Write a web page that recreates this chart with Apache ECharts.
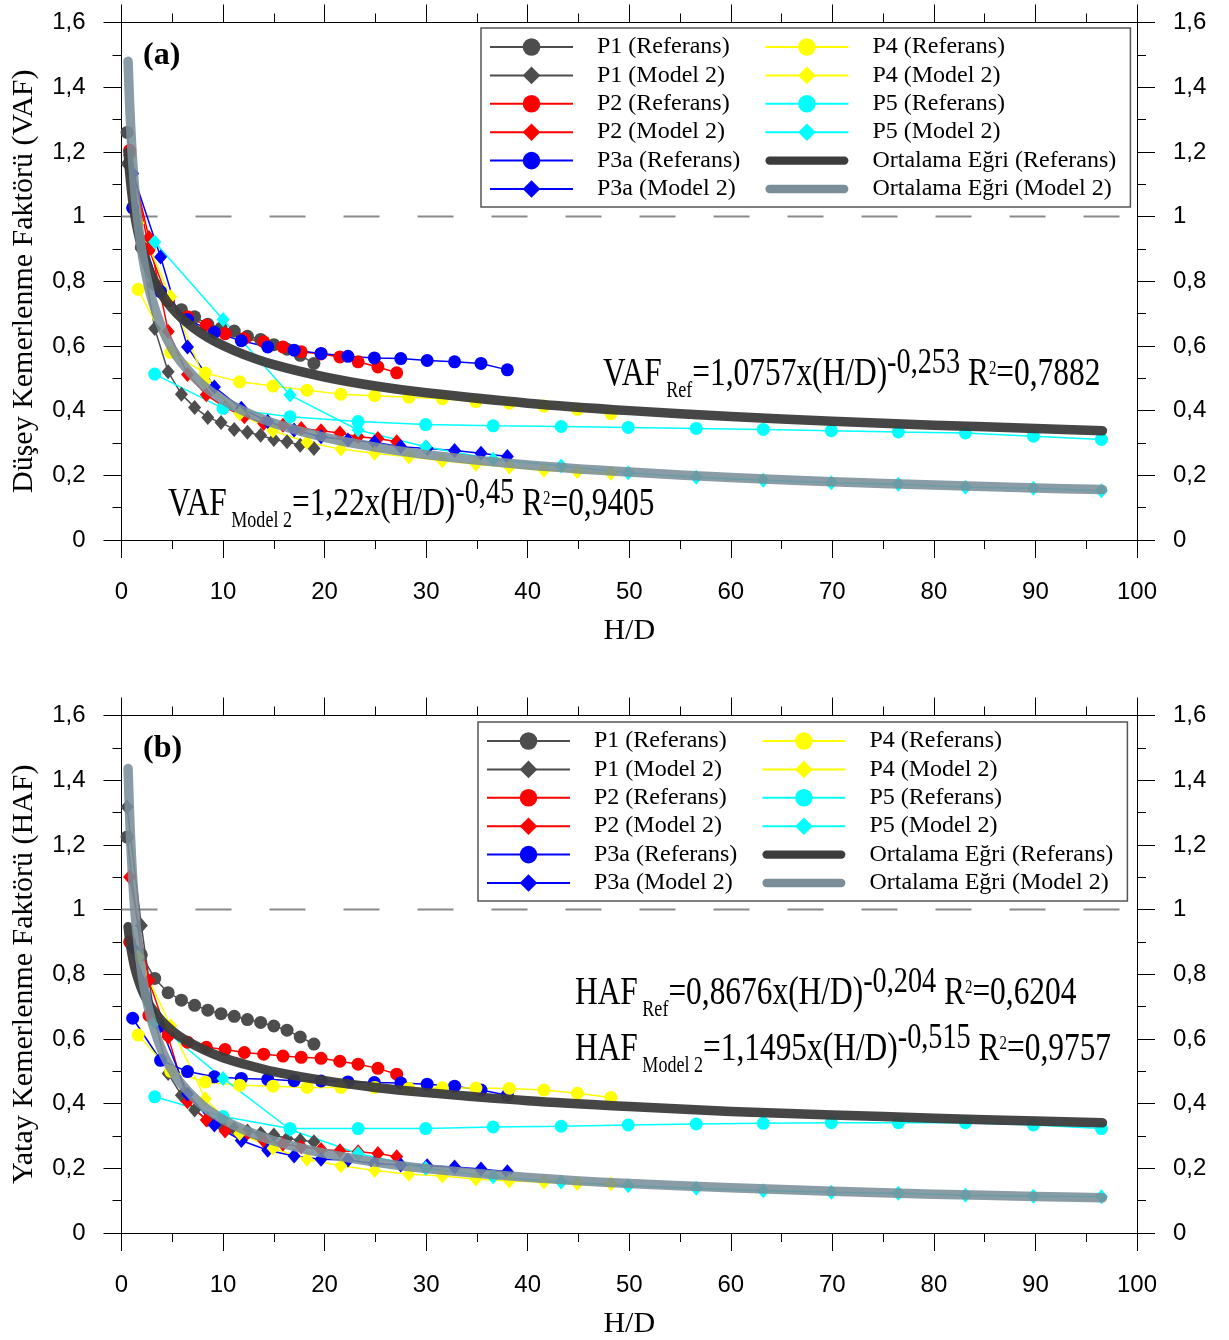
<!DOCTYPE html>
<html><head><meta charset="utf-8">
<script src="https://cdn.jsdelivr.net/npm/echarts@6/dist/echarts.min.js"></script>
<style>html,body{margin:0;padding:0;background:#fff}#c{width:1229px;height:1340px}</style>
</head><body><div id="c"></div>
<script>
// ---- data ----
const xP1  = [0.55, 1.95, 3.27, 4.59, 5.9, 7.2, 8.5, 9.8, 11.1, 12.4, 13.7, 15.0, 16.3, 17.6, 18.95];
const xP2  = [0.8, 2.7, 4.6, 6.5, 8.35, 10.2, 12.1, 14.0, 15.9, 17.7, 19.65, 21.5, 23.3, 25.25, 27.1];
const xP3a = [1.1, 3.85, 6.5, 9.15, 11.8, 14.4, 17.0, 19.65, 22.3, 24.9, 27.5, 30.1, 32.8, 35.4, 38.0];
const xP4  = [1.64, 4.85, 8.25, 11.64, 14.92, 18.27, 21.6, 24.93, 28.3, 31.6, 34.9, 38.2, 41.6, 44.9, 48.2];
const xP5  = [3.27, 10.0, 16.6, 23.3, 29.95, 36.6, 43.3, 49.9, 56.6, 63.2, 69.9, 76.5, 83.1, 89.8, 96.5];
const xMean = [0.65, 0.8, 1, 1.25, 1.5, 2, 2.5, 3, 4, 5, 6, 8, 10, 12, 15, 20, 25, 30, 40, 50, 60, 70, 80, 90, 96.6];

// (a) VAF
const vafP1Ref  = [1.26, 0.906, 0.79, 0.74, 0.712, 0.69, 0.667, 0.655, 0.646, 0.63, 0.62, 0.604, 0.59, 0.571, 0.546];
const vafP1Mod  = [1.163, 0.90, 0.654, 0.52, 0.451, 0.41, 0.379, 0.363, 0.342, 0.333, 0.324, 0.311, 0.304, 0.293, 0.283];
const vafP2Ref  = [1.205, 0.90, 0.741, 0.69, 0.664, 0.638, 0.623, 0.613, 0.597, 0.582, 0.575, 0.566, 0.551, 0.535, 0.517];
const vafP2Mod  = [1.19, 0.935, 0.645, 0.512, 0.449, 0.41, 0.381, 0.36, 0.355, 0.345, 0.338, 0.331, 0.319, 0.314, 0.304];
const vafP3aRef = [1.027, 0.768, 0.682, 0.642, 0.616, 0.597, 0.587, 0.577, 0.568, 0.563, 0.561, 0.555, 0.551, 0.546, 0.526];
const vafP3aMod = [1.133, 0.875, 0.597, 0.473, 0.407, 0.366, 0.340, 0.319, 0.309, 0.302, 0.288, 0.283, 0.277, 0.268, 0.258];
const vafP4Ref  = [0.775, 0.58, 0.516, 0.489, 0.476, 0.463, 0.451, 0.446, 0.441, 0.437, 0.428, 0.423, 0.414, 0.404, 0.391];
const vafP4Mod  = [0.98, 0.752, 0.49, 0.39, 0.338, 0.302, 0.281, 0.268, 0.257, 0.245, 0.234, 0.226, 0.216, 0.211, 0.206];
const vafP5Ref  = [0.513, 0.407, 0.381, 0.366, 0.357, 0.353, 0.351, 0.348, 0.345, 0.342, 0.338, 0.334, 0.331, 0.321, 0.311];
const vafP5Mod  = [0.921, 0.682, 0.448, 0.340, 0.288, 0.250, 0.229, 0.208, 0.194, 0.185, 0.177, 0.172, 0.163, 0.160, 0.152];
const vafMeanRef = [1.199, 1.138, 1.076, 1.017, 0.971, 0.903, 0.853, 0.815, 0.758, 0.716, 0.684, 0.636, 0.601, 0.574, 0.542, 0.504, 0.476, 0.455, 0.423, 0.400, 0.382, 0.367, 0.355, 0.345, 0.338];
const vafMeanMod = [1.48, 1.349, 1.22, 1.103, 1.017, 0.893, 0.808, 0.744, 0.654, 0.591, 0.545, 0.479, 0.433, 0.399, 0.361, 0.317, 0.287, 0.264, 0.232, 0.210, 0.193, 0.180, 0.170, 0.161, 0.156];

// (b) HAF
const hafP1Ref  = [1.224, 0.86, 0.787, 0.743, 0.720, 0.704, 0.689, 0.678, 0.670, 0.660, 0.651, 0.640, 0.627, 0.606, 0.584];
const hafP1Mod  = [1.317, 0.951, 0.66, 0.493, 0.426, 0.380, 0.35, 0.335, 0.322, 0.315, 0.308, 0.303, 0.292, 0.287, 0.282];
const hafP2Ref  = [0.90, 0.673, 0.612, 0.590, 0.574, 0.567, 0.558, 0.553, 0.547, 0.543, 0.540, 0.531, 0.522, 0.509, 0.491];
const hafP2Mod  = [1.101, 0.78, 0.606, 0.406, 0.349, 0.315, 0.298, 0.285, 0.275, 0.267, 0.258, 0.254, 0.251, 0.246, 0.236];
const hafP3aRef = [0.664, 0.534, 0.499, 0.483, 0.478, 0.475, 0.471, 0.470, 0.467, 0.465, 0.464, 0.460, 0.454, 0.442, 0.426];
const hafP3aMod = [0.882, 0.64, 0.43, 0.334, 0.286, 0.256, 0.238, 0.228, 0.226, 0.215, 0.210, 0.208, 0.204, 0.198, 0.189];
const hafP4Ref  = [0.612, 0.50, 0.467, 0.457, 0.454, 0.450, 0.450, 0.450, 0.447, 0.449, 0.448, 0.447, 0.442, 0.432, 0.419];
const hafP4Mod  = [0.853, 0.64, 0.415, 0.308, 0.262, 0.228, 0.208, 0.193, 0.182, 0.176, 0.167, 0.161, 0.158, 0.153, 0.152];
const hafP5Ref  = [0.421, 0.36, 0.323, 0.323, 0.323, 0.328, 0.330, 0.334, 0.337, 0.339, 0.341, 0.341, 0.341, 0.334, 0.323];
const hafP5Mod  = [0.653, 0.478, 0.32, 0.246, 0.200, 0.174, 0.158, 0.146, 0.138, 0.131, 0.126, 0.123, 0.117, 0.114, 0.112];
const hafMeanRef = [0.947, 0.908, 0.868, 0.829, 0.799, 0.753, 0.720, 0.693, 0.654, 0.625, 0.602, 0.568, 0.542, 0.523, 0.499, 0.471, 0.450, 0.434, 0.409, 0.391, 0.376, 0.365, 0.355, 0.346, 0.341];
const hafMeanMod = [1.436, 1.290, 1.150, 1.025, 0.933, 0.804, 0.717, 0.653, 0.563, 0.502, 0.457, 0.394, 0.351, 0.320, 0.285, 0.246, 0.219, 0.199, 0.172, 0.153, 0.140, 0.129, 0.120, 0.113, 0.109];

const refLine = [1, 1];
const refLineX = [0, 100];

const xTickValues = [0, 10, 20, 30, 40, 50, 60, 70, 80, 90, 100];
const yTickValues = [0, 0.2, 0.4, 0.6, 0.8, 1, 1.2, 1.4, 1.6];

const legendNames = ['P1 (Referans)', 'P1 (Model 2)', 'P2 (Referans)', 'P2 (Model 2)', 'P3a (Referans)', 'P3a (Model 2)',
  'P4 (Referans)', 'P4 (Model 2)', 'P5 (Referans)', 'P5 (Model 2)', 'Ortalama Eğri (Referans)', 'Ortalama Eğri (Model 2)'];
const colors = { P1: '#4d4d4d', P2: '#ff0000', P3a: '#0000ff', P4: '#ffff00', P5: '#00ffff', meanRef: '#3c3c3c', meanMod: '#7a8e99' };

// ---- build ----
const pairs = (xs, ys) => xs.map((x, i) => [x, ys[i]]);
const fmt = v => String(v).replace('.', ',');
const SERIF = '"Liberation Serif", "Times New Roman", serif';
const SANS = '"Liberation Sans", Arial, sans-serif';

function pt(name, xs, ys, color, symbol, g) {
  return {
    name, type: 'line', xAxisIndex: g * 2, yAxisIndex: g * 2, data: pairs(xs, ys),
    symbol, symbolSize: symbol === 'diamond' ? [13, 15] : 13, showSymbol: true,
    lineStyle: { color, width: 1.5 }, itemStyle: { color }, z: 3, animation: false
  };
}
function mean(name, xs, ys, color, g, op) {
  return {
    name, type: 'line', xAxisIndex: g * 2, yAxisIndex: g * 2, data: pairs(xs, ys),
    symbol: 'none', smooth: 0.3, lineStyle: { color, width: 9.5, cap: 'round', join: 'round', opacity: op },
    itemStyle: { color }, z: 5, animation: false
  };
}
function dash(g) {
  return {
    type: 'line', xAxisIndex: g * 2, yAxisIndex: g * 2, data: pairs(refLineX, refLine), symbol: 'none', silent: true,
    lineStyle: { color: '#8a8a8a', width: 2, type: [36, 38] }, z: 1, animation: false
  };
}
function groupSeries(g, d) {
  return [
    dash(g),
    pt(legendNames[0], xP1, d.p1r, colors.P1, 'circle', g),
    pt(legendNames[1], xP1, d.p1m, colors.P1, 'diamond', g),
    pt(legendNames[2], xP2, d.p2r, colors.P2, 'circle', g),
    pt(legendNames[3], xP2, d.p2m, colors.P2, 'diamond', g),
    pt(legendNames[4], xP3a, d.p3r, colors.P3a, 'circle', g),
    pt(legendNames[5], xP3a, d.p3m, colors.P3a, 'diamond', g),
    pt(legendNames[6], xP4, d.p4r, colors.P4, 'circle', g),
    pt(legendNames[7], xP4, d.p4m, colors.P4, 'diamond', g),
    pt(legendNames[8], xP5, d.p5r, colors.P5, 'circle', g),
    pt(legendNames[9], xP5, d.p5m, colors.P5, 'diamond', g),
    mean(legendNames[10], xMean, d.mr, colors.meanRef, g, 0.95),
    mean(legendNames[11], xMean, d.mm, colors.meanMod, g, 0.88)
  ];
}

const tickStyle = { color: '#000', width: 1 };
function xAxes(title) {
  const base = {
    type: 'value', min: xTickValues[0], max: xTickValues[xTickValues.length - 1],
    interval: xTickValues[1] - xTickValues[0],
    axisLine: { onZero: false, lineStyle: tickStyle },
    axisTick: { length: 18, lineStyle: tickStyle },
    minorTick: { show: true, splitNumber: 2, length: 9, lineStyle: tickStyle },
    splitLine: { show: false }
  };
  return [
    Object.assign({}, base, { position: 'bottom',
      axisLabel: { margin: 40, fontSize: 24, color: '#000', fontFamily: SANS },
      name: title, nameLocation: 'middle', nameGap: 76,
      nameTextStyle: { fontSize: 30, fontFamily: SERIF, color: '#000' } }),
    Object.assign({}, base, { position: 'top', axisLabel: { show: false } })
  ];
}
function yAxes(title) {
  const base = {
    type: 'value', min: yTickValues[0], max: yTickValues[yTickValues.length - 1],
    interval: yTickValues[1] - yTickValues[0],
    axisLine: { onZero: false, lineStyle: tickStyle },
    axisTick: { length: 18, lineStyle: tickStyle },
    minorTick: { show: true, splitNumber: 2, length: 9, lineStyle: tickStyle },
    splitLine: { show: false },
    axisLabel: { margin: 36, fontSize: 24, color: '#000', fontFamily: SANS, formatter: fmt }
  };
  return [
    Object.assign({}, base, { position: 'left', name: title, nameLocation: 'middle', nameGap: 82,
      nameTextStyle: { fontSize: 30, fontFamily: SERIF, color: '#000' } }),
    Object.assign({}, base, { position: 'right' })
  ];
}

function legend(left, top) {
  const tok = { fontFamily: SERIF, fontSize: 24, lineHeight: 22, height: 22, color: '#000' };
  return {
    orient: 'vertical', left, top, height: 168, padding: [7, 8, 6, 8],
    itemWidth: 83, itemHeight: 22, itemGap: 4.4,
    borderColor: '#555', borderWidth: 1.5, backgroundColor: '#fff', selectedMode: false,
    formatter: name => {
      const i = legendNames.indexOf(name);
      return '{g| }' + (i < 6 ? '{a|' : '{b|') + name + '}';
    },
    textStyle: {
      fontFamily: SERIF, fontSize: 24, color: '#000', lineHeight: 22,
      rich: {
        g: Object.assign({}, tok, { width: 19 }),
        a: Object.assign({}, tok, { width: 163 }),
        b: Object.assign({}, tok, { width: 250 })
      }
    },
    data: legendNames.map((n, i) => {
      const item = { name: n };
      if (i >= 10) item.icon = 'path://M5,0H95A5,5 0 0 1 95,10H5A5,5 0 0 1 5,0Z';
      return item;
    })
  };
}

function eq(x, yTop, name, sub, coef, exp, r2) {
  const m = { fontFamily: SERIF, fontSize: 40, lineHeight: 56, verticalAlign: 'middle', fill: '#000' };
  return {
    type: 'text', x, y: yTop, scaleX: 0.785, z: 50,
    style: {
      text: '{m|' + name + '}{s| ' + sub + '}{m|=' + coef + 'x(H/D)}{p|' + exp + '}{m| R}{q|2}{m|=' + r2 + '}',
      verticalAlign: 'top', align: 'left',
      rich: {
        m: m,
        s: { fontFamily: SERIF, fontSize: 23, lineHeight: 34, verticalAlign: 'bottom', fill: '#000' },
        p: { fontFamily: SERIF, fontSize: 36, lineHeight: 36, verticalAlign: 'top', fill: '#000' },
        q: { fontFamily: SERIF, fontSize: 19, verticalAlign: 'top', padding: [14, 0, 0, 0], fill: '#000' }
      }
    }
  };
}

const option = {
  backgroundColor: '#fff',
  animation: false,
  grid: [
    { left: 121.5, top: 22.5, width: 1015.5, height: 517.5 },
    { left: 121.5, top: 715.5, width: 1015.5, height: 517.5 }
  ],
  xAxis: [...xAxes('H/D'), ...xAxes('H/D')].map((a, i) => Object.assign(a, { gridIndex: i < 2 ? 0 : 1 })),
  yAxis: [...yAxes('Düşey Kemerlenme Faktörü (VAF)'), ...yAxes('Yatay Kemerlenme Faktörü (HAF)')].map((a, i) => Object.assign(a, { gridIndex: i < 2 ? 0 : 1 })),
  legend: [legend(481, 28), legend(478, 722)],
  series: [
    ...groupSeries(0, { p1r: vafP1Ref, p1m: vafP1Mod, p2r: vafP2Ref, p2m: vafP2Mod, p3r: vafP3aRef, p3m: vafP3aMod,
      p4r: vafP4Ref, p4m: vafP4Mod, p5r: vafP5Ref, p5m: vafP5Mod, mr: vafMeanRef, mm: vafMeanMod }),
    ...groupSeries(1, { p1r: hafP1Ref, p1m: hafP1Mod, p2r: hafP2Ref, p2m: hafP2Mod, p3r: hafP3aRef, p3m: hafP3aMod,
      p4r: hafP4Ref, p4m: hafP4Mod, p5r: hafP5Ref, p5m: hafP5Mod, mr: hafMeanRef, mm: hafMeanMod })
  ],
  graphic: [
    { type: 'text', x: 143, y: 56, z: 50, style: { text: '(a)', font: 'bold 32px ' + SERIF, fill: '#000', verticalAlign: 'middle' } },
    { type: 'text', x: 143, y: 749, z: 50, style: { text: '(b)', font: 'bold 32px ' + SERIF, fill: '#000', verticalAlign: 'middle' } },
    eq(603, 346, 'VAF', 'Ref', '1,0757', '-0,253', '0,7882'),
    eq(168, 476, 'VAF', 'Model 2', '1,22', '-0,45', '0,9405'),
    eq(575, 965, 'HAF', 'Ref', '0,8676', '-0,204', '0,6204'),
    eq(575, 1021, 'HAF', 'Model 2', '1,1495', '-0,515', '0,9757')
  ]
};

const chart = echarts.init(document.getElementById('c'));
chart.setOption(option);
</script>
</body></html>
